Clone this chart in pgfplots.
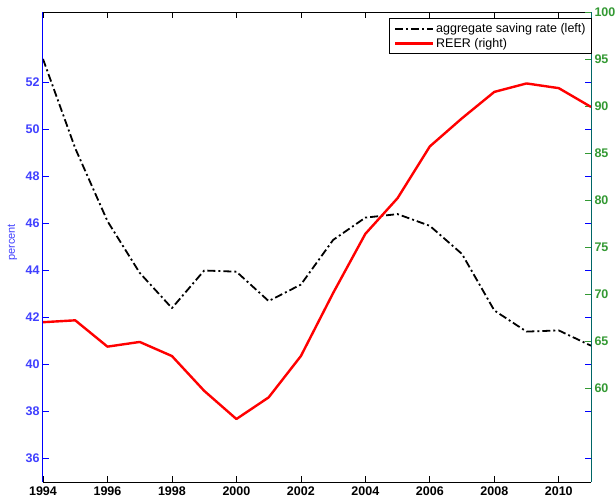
\documentclass[border=0pt]{standalone}
\usepackage{fontspec}
\setmainfont{Liberation Sans}
\usepackage{pgfplots}
\pgfplotsset{compat=1.18}
\definecolor{lblue}{rgb}{0.25,0.25,1}
\definecolor{lgreen}{rgb}{0.2,0.6,0.2}
\definecolor{teal2}{rgb}{0.0,0.4,0.4}
\begin{document}
\begin{tikzpicture}
\path[use as bounding box] (-43pt,-17pt) rectangle (573pt,482pt);
\begin{axis}[
  scale only axis, width=548pt, height=470pt,
  xmin=1994, xmax=2011, ymin=35, ymax=55,
  xtick={1994,1996,...,2010},
  ytick={36,38,...,52},
  /pgf/number format/assume math mode=true,
  x tick label style={/pgf/number format/1000 sep={}, font=\fontsize{12.5}{14}\selectfont\bfseries, black},
  y tick label style={font=\fontsize{12.5}{14}\selectfont\bfseries, lblue},
  separate axis lines,
  x axis line style={black, line width=1pt},
  y axis line style={blue, line width=1pt},
  xtick style={black, line width=0.7pt},
  ytick style={blue, line width=0.7pt},
  major tick length=6pt,
  tick align=inside,
  ylabel={percent},
  ylabel style={font=\fontsize{11}{13}\selectfont, lblue, at={(axis description cs:-0.047,0.51)}, anchor=south, inner sep=0pt},
  xticklabel style={yshift=-1pt},
]
\addplot[black, line width=1.8pt, dash pattern=on 8pt off 3pt on 2pt off 3pt, line join=round] coordinates {
(1994,53.0) (1995,49.2) (1996,46.1) (1997,43.9) (1998,42.4) (1999,44.0) (2000,43.95)
(2001,42.7) (2002,43.4) (2003,45.3) (2004,46.25) (2005,46.4) (2006,45.9) (2007,44.7)
(2008,42.3) (2009,41.4) (2010,41.45) (2011,40.8)};
\end{axis}
\begin{axis}[
  scale only axis, width=548pt, height=470pt,
  xmin=1994, xmax=2011, ymin=50, ymax=100,
  axis x line=none,
  axis y line*=right,
  ytick={60,65,...,100},
  /pgf/number format/assume math mode=true,
  y tick label style={font=\fontsize{12.5}{14}\selectfont\bfseries, lgreen},
  y axis line style={teal2, line width=1pt, -},
  ytick style={lgreen, line width=0.7pt},
  major tick length=6pt,
  tick align=inside,
  legend style={at={(1.002,0.987)}, anchor=north east, draw=black, line width=1pt,
    font=\fontsize{12.5}{14}\selectfont, inner xsep=4pt, inner ysep=3pt, row sep=0pt, fill=white},
  legend cell align=left,
  legend image code/.code={\draw[#1] (0pt,0pt) -- (38pt,0pt);},
]
\addlegendimage{black, line width=1.8pt, dash pattern=on 8pt off 3pt on 2pt off 3pt}
\addlegendentry{aggregate saving rate (left)}
\addplot[red, line width=2.4pt, line join=round] coordinates {
(1994,67.0) (1995,67.2) (1996,64.4) (1997,64.9) (1998,63.4) (1999,59.7) (2000,56.7)
(2001,59.0) (2002,63.4) (2003,70.1) (2004,76.4) (2005,80.2) (2006,85.7) (2007,88.7)
(2008,91.5) (2009,92.4) (2010,91.9) (2011,89.9)};
\addlegendentry{REER (right)}
\end{axis}
\end{tikzpicture}
\end{document}
